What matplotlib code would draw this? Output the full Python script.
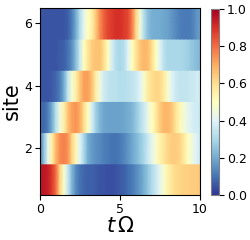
import numpy as np
import matplotlib
matplotlib.use('Agg')
import matplotlib.pyplot as plt

# time grid (t * Omega), step 0.25
t = np.linspace(0, 10, 41)

# occupation per site
site1 = [0.95, 0.95, 0.93, 0.88, 0.80, 0.62, 0.48, 0.35, 0.22, 0.14, 0.10,
         0.08, 0.07, 0.07, 0.06, 0.05, 0.05, 0.04, 0.04, 0.05, 0.06, 0.07,
         0.09, 0.11, 0.14, 0.17, 0.21, 0.26, 0.31, 0.36, 0.42, 0.48, 0.54,
         0.58, 0.61, 0.62, 0.63, 0.63, 0.64, 0.64, 0.65]
site2 = [0.12, 0.25, 0.42, 0.55, 0.68, 0.75, 0.77, 0.74, 0.62, 0.52, 0.40,
         0.30, 0.20, 0.17, 0.15, 0.14, 0.12, 0.11, 0.10, 0.10, 0.11, 0.13,
         0.16, 0.19, 0.22, 0.26, 0.30, 0.36, 0.42, 0.48, 0.54, 0.58, 0.62,
         0.64, 0.64, 0.62, 0.57, 0.50, 0.45, 0.40, 0.37]
site3 = [0.08, 0.08, 0.12, 0.20, 0.33, 0.45, 0.55, 0.66, 0.72, 0.74, 0.70,
         0.60, 0.50, 0.38, 0.28, 0.22, 0.19, 0.18, 0.18, 0.18, 0.18, 0.19,
         0.20, 0.22, 0.26, 0.31, 0.36, 0.43, 0.50, 0.57, 0.64, 0.68, 0.68,
         0.65, 0.58, 0.52, 0.46, 0.42, 0.39, 0.37, 0.37]
site4 = [0.05, 0.05, 0.05, 0.06, 0.08, 0.12, 0.20, 0.35, 0.47, 0.55, 0.65,
         0.72, 0.72, 0.66, 0.55, 0.45, 0.37, 0.34, 0.33, 0.33, 0.32, 0.32,
         0.33, 0.34, 0.36, 0.40, 0.48, 0.56, 0.60, 0.62, 0.61, 0.56, 0.48,
         0.40, 0.36, 0.34, 0.34, 0.35, 0.36, 0.37, 0.38]
site5 = [0.05, 0.05, 0.05, 0.05, 0.05, 0.06, 0.07, 0.10, 0.15, 0.24, 0.36,
         0.50, 0.58, 0.64, 0.66, 0.66, 0.60, 0.50, 0.38, 0.32, 0.30, 0.32,
         0.40, 0.50, 0.58, 0.65, 0.68, 0.67, 0.60, 0.50, 0.40, 0.33, 0.30,
         0.30, 0.30, 0.30, 0.29, 0.28, 0.26, 0.24, 0.23]
site6 = [0.05, 0.05, 0.05, 0.05, 0.05, 0.05, 0.05, 0.07, 0.12, 0.20, 0.32,
         0.42, 0.50, 0.55, 0.65, 0.75, 0.82, 0.86, 0.88, 0.90, 0.90, 0.88,
         0.86, 0.78, 0.62, 0.46, 0.32, 0.24, 0.21, 0.20, 0.20, 0.19, 0.18,
         0.16, 0.14, 0.12, 0.11, 0.11, 0.12, 0.15, 0.18]

sites = [1, 2, 3, 4, 5, 6]
rows = [site1, site2, site3, site4, site5, site6]

fig = plt.figure(figsize=(2.5, 2.4), dpi=100)
ax = fig.add_axes([0.16, 0.1875, 0.64, 0.78])
cax = fig.add_axes([0.844, 0.1875, 0.032, 0.775])

# one gouraud strip per site: smooth in time, hard edges between sites
for s, vals in zip(sites, rows):
    C = np.array([vals, vals])
    X, Y = np.meshgrid(t, [s - 0.5, s + 0.5])
    mesh = ax.pcolormesh(X, Y, C, shading='gouraud', cmap='RdYlBu_r',
                         vmin=0, vmax=1)

ax.set_xlim(0, 10)
ax.set_ylim(0.5, 6.5)
ax.set_xticks([0, 5, 10])
ax.set_yticks([2, 4, 6])
ax.tick_params(labelsize=9, pad=2)
ax.set_xlabel(r'$t\,\Omega$', fontsize=15, labelpad=0)
ax.set_ylabel('site', fontsize=15, labelpad=2)

cb = fig.colorbar(mesh, cax=cax, ticks=[0, 0.2, 0.4, 0.6, 0.8, 1.0])
cb.ax.tick_params(labelsize=9, pad=2)
cb.outline.set_edgecolor('0.5')

fig.savefig('out.png', dpi=100)
